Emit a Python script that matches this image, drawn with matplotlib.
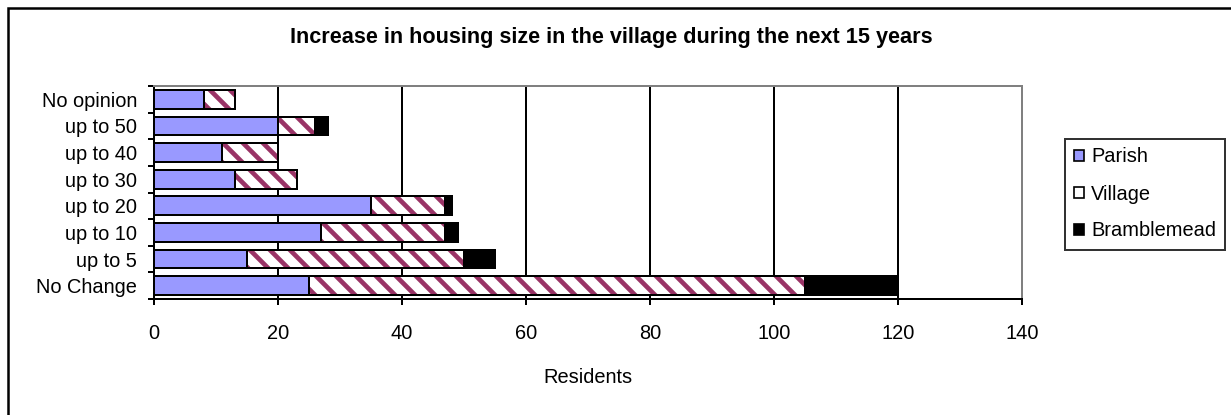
import matplotlib
matplotlib.use("Agg")
import matplotlib.pyplot as plt
from matplotlib.patches import Patch, Rectangle

plt.rcParams["font.family"] = ["Liberation Sans", "DejaVu Sans"]
plt.rcParams["hatch.linewidth"] = 2.8

categories = ["No Change", "up to 5", "up to 10", "up to 20", "up to 30", "up to 40", "up to 50", "No opinion"]
parish = [25, 15, 27, 35, 13, 11, 20, 8]
village = [80, 35, 20, 12, 10, 9, 6, 5]
bramblemead = [15, 5, 2, 1, 0, 0, 2, 0]
x_ticks = [0, 20, 40, 60, 80, 100, 120, 140]

DPI = 120
fig = plt.figure(figsize=(1231 / DPI, 415 / DPI), dpi=DPI)
ax = fig.add_axes([154 / 1231, 1 - 299 / 415, (1022 - 154) / 1231, (299 - 86) / 415])

y = list(range(len(categories)))
h = 0.7
left3 = [p + v for p, v in zip(parish, village)]

ax.barh(y, parish, height=h, color="#9999FF", edgecolor="black", linewidth=1.2, zorder=3)
# hatch takes the edge colour, so draw the stripes first and the black outline on top
ax.barh(y, village, left=parish, height=h, color="white", edgecolor="#993366", linewidth=0, hatch="\\\\", zorder=3)
ax.barh(y, village, left=parish, height=h, fill=False, edgecolor="black", linewidth=1.2, zorder=4)
ax.barh(y, bramblemead, left=left3, height=h, color="black", edgecolor="black", linewidth=1.2, zorder=3)

ax.set_xlim(0, 140)
ax.set_ylim(-0.5, len(categories) - 0.5)
ax.set_xticks(x_ticks)
ax.set_yticks(y)
ax.set_yticklabels(categories)
ax.set_yticks([i - 0.5 for i in range(len(categories) + 1)], minor=True)
ax.tick_params(axis="y", which="major", length=0, labelsize=12, pad=10)
ax.tick_params(axis="y", which="minor", length=3.5, width=1.2, direction="out")
ax.tick_params(axis="x", length=3.5, width=1.2, direction="out", labelsize=12, pad=11.5)
ax.xaxis.grid(True, color="black", linewidth=1.2, zorder=0)
ax.set_axisbelow(True)
for s in ["top", "right"]:
    ax.spines[s].set_color("#808080")
    ax.spines[s].set_linewidth(1.2)
for s in ["left", "bottom"]:
    ax.spines[s].set_color("black")
    ax.spines[s].set_linewidth(1.2)
ax.set_xlabel("Residents", fontsize=12, labelpad=15)

fig.text(0.497, 1 - 37 / 415, "Increase in housing size in the village during the next 15 years",
         ha="center", va="center", fontsize=13, fontweight="bold")

handles = [
    Patch(facecolor="#9999FF", edgecolor="black", linewidth=1),
    Patch(facecolor="white", edgecolor="black", linewidth=1),
    Patch(facecolor="black", edgecolor="black", linewidth=1),
]
leg = fig.legend(handles, ["Parish", "Village", "Bramblemead"], loc="center left",
                 bbox_to_anchor=(1065 / 1231, 1 - 194 / 415), fontsize=12,
                 handlelength=0.5, handleheight=0.5, handletextpad=0.35,
                 labelspacing=0.9, borderpad=0.45, borderaxespad=0,
                 fancybox=False, frameon=True, edgecolor="black")
leg.get_frame().set_linewidth(1.2)

fig.patches.append(Rectangle((8 / 1231, -0.2), 1.5, 1.2 - 8 / 415, transform=fig.transFigure,
                             fill=False, edgecolor="black", linewidth=1.5))

fig.savefig("out.png", dpi=DPI)
